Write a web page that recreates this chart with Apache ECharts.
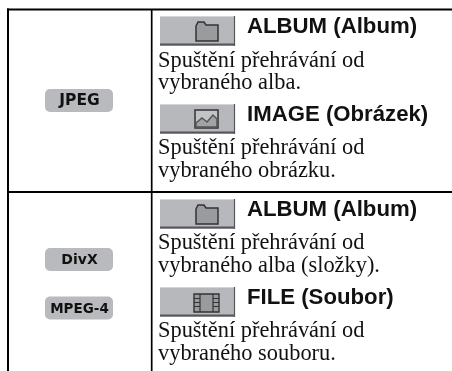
<!DOCTYPE html>
<html>
<head>
<meta charset="utf-8">
<style>html,body{margin:0;padding:0;background:#fff}#main{width:452px;height:371px}</style>
<script src="https://cdn.jsdelivr.net/npm/echarts@6/dist/echarts.min.js"></script>
</head>
<body>
<div id="main"></div>
<script>
// texty tabulky
var formatLabels = ['JPEG', 'DivX', 'MPEG-4'];
var headings = ['ALBUM (Album)', 'IMAGE (Obrázek)', 'ALBUM (Album)', 'FILE (Soubor)'];
var line1 = ['Spuštění přehrávání od', 'Spuštění přehrávání od', 'Spuštění přehrávání od', 'Spuštění přehrávání od'];
var line2 = ['vybraného alba.', 'vybraného obrázku.', 'vybraného alba (složky).', 'vybraného souboru.'];
var icons = ['folder', 'image', 'folder', 'film'];

var badgeY = [100.5, 259.5, 308];   // stredy stitku
var badgeSize = [15.5, 14, 13.5];
var btnY = [16, 104, 199, 287];     // horni hrana tlacitek
var line1Y = [69, 156, 251, 338.5]; // uctaci radky textu
var line2Y = [91, 178.5, 274, 362];

var graphic = [];
function line(x1, y1, x2, y2, w, c) {
    graphic.push({ type: 'line', shape: { x1: x1, y1: y1, x2: x2, y2: y2 }, style: { stroke: c || '#000', lineWidth: w } });
}
function rect(x, y, w, h, fill, r, stroke) {
    graphic.push({ type: 'rect', shape: { x: x, y: y, width: w, height: h, r: r || 0 }, style: { fill: fill, stroke: stroke || null, lineWidth: stroke ? 1.4 : 0 } });
}
// y je baseline, zrender kresli jen middle, proto posun
function text(s, x, y, font, weight, size, align) {
    graphic.push({ type: 'text', x: x, y: y - size * 0.33, style: { text: s, fontFamily: font, fontWeight: weight, fontSize: size, fill: '#111', align: align || 'left', verticalAlign: 'middle' } });
}
function poly(points, fill, stroke) {
    graphic.push({ type: 'polygon', shape: { points: points }, style: { fill: fill, stroke: stroke, lineWidth: 1.5 } });
}

// ramecek
line(7, 9.5, 452, 9.5, 2);
line(8, 8.5, 8, 371, 2);
line(151.7, 9, 151.7, 371, 1.7);
line(8, 192, 452, 192, 2);

// stitky vlevo
for (var i = 0; i < formatLabels.length; i++) {
    rect(45, badgeY[i] - 11.5, 68, 23, '#b9babd', 5);
    text(formatLabels[i], 79.5, badgeY[i] + 5.5, '"DejaVu Sans"', 'bold', badgeSize[i], 'center');
}

function drawIcon(kind, y) {
    var x = 195;
    if (kind === 'folder') {
        poly([[x + 1, y + 10], [x + 3, y + 6], [x + 9, y + 6], [x + 11, y + 9], [x + 23, y + 9], [x + 23, y + 25], [x + 1, y + 25]], '#9a9b9e', '#333');
    } else if (kind === 'image') {
        poly([[x, y + 6], [x + 23, y + 6], [x + 23, y + 24], [x, y + 24]], '#c2c3c6', '#333');
        poly([[x + 1, y + 19], [x + 7, y + 14], [x + 12, y + 18], [x + 18, y + 11], [x + 22, y + 15], [x + 22, y + 23], [x + 1, y + 23]], '#a2a3a6', '#555');
    } else {
        rect(x - 1, y + 7, 25, 18, '#9a9b9e', 0, '#333');
        line(x + 5, y + 7, x + 5, y + 25, 1.2, '#333');
        line(x + 18, y + 7, x + 18, y + 25, 1.2, '#333');
        [12, 16, 20].forEach(function (d) {
            line(x - 1, y + d - 0.5, x + 5, y + d - 0.5, 1, '#333');
            line(x + 18, y + d - 0.5, x + 24, y + d - 0.5, 1, '#333');
        });
    }
}

// pravy sloupec
for (var j = 0; j < headings.length; j++) {
    var y = btnY[j];
    rect(160, y, 75, 30, '#b7b8bb');
    line(160, y + 0.5, 235, y + 0.5, 1, '#d4d5d7');
    line(160, y + 28.5, 235, y + 28.5, 2, '#55565a');
    line(234.5, y, 234.5, y + 30, 1.2, '#55565a');
    drawIcon(icons[j], y);
    text(headings[j], 247, y + 18, '"Liberation Sans"', 'bold', 22.2);
    text(line1[j], 158, line1Y[j], '"Liberation Serif"', 'normal', 22.4);
    text(line2[j], 158, line2Y[j], '"Liberation Serif"', 'normal', 22.4);
}

var chart = echarts.init(document.getElementById('main'));
chart.setOption({
    animation: false,
    graphic: graphic
});
</script>
</body>
</html>
